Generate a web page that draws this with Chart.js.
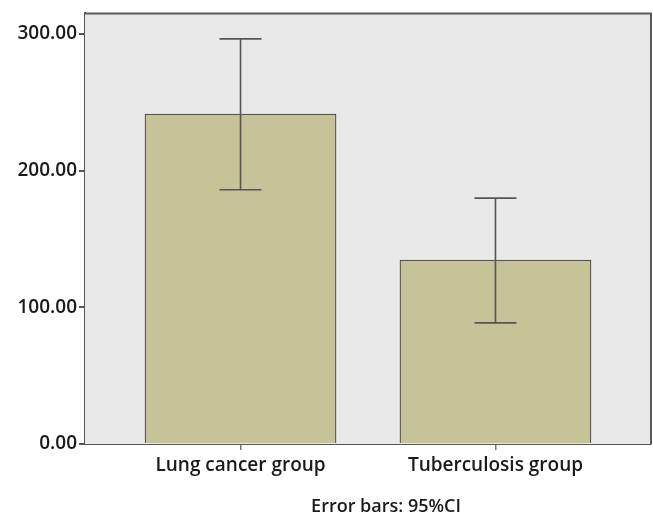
<!DOCTYPE html>
<html>
<head>
<meta charset="utf-8">
<script src="https://cdn.jsdelivr.net/npm/chart.js@4/dist/chart.umd.min.js"></script>
<style>
  html, body { margin: 0; padding: 0; background: #fff; }
  #wrap { width: 653px; height: 516px; }
</style>
</head>
<body>
<div id="wrap"><canvas id="myChart"></canvas></div>
<script>
// groups and values
const groups = ["Lung cancer group", "Tuberculosis group"];
const means = [241.3, 134.5];
const ciLow = [186, 88.6];
const ciHigh = [296.4, 179.9];
const yTicks = [0, 100, 200, 300];
const note = "Error bars: 95%CI";

const textFont = { family: "'Open Sans', sans-serif", size: 19, weight: 600 };

// grey plot background and frame
const plotFrame = {
    id: 'plotFrame',
    beforeDatasetsDraw(chart) {
        const a = chart.chartArea, ctx = chart.ctx;
        ctx.save();
        ctx.fillStyle = '#e9e9e9';
        ctx.fillRect(a.left, a.top, a.right - a.left, a.bottom - a.top);
        ctx.restore();
    },
    afterDatasetsDraw(chart) {
        const a = chart.chartArea, ctx = chart.ctx;
        ctx.save();
        ctx.strokeStyle = '#5a5a5a';
        ctx.lineWidth = 2;
        ctx.beginPath();
        ctx.moveTo(a.left, a.top);
        ctx.lineTo(a.right, a.top);
        ctx.lineTo(a.right, a.bottom);
        ctx.stroke();
        ctx.restore();
    },
    afterDraw(chart) {
        // footnote under the axis, a bit right of centre like the original
        const a = chart.chartArea, ctx = chart.ctx;
        ctx.save();
        ctx.fillStyle = '#1a1a1a';
        ctx.font = "600 18px 'Open Sans', sans-serif";
        ctx.textAlign = 'center';
        ctx.textBaseline = 'alphabetic';
        ctx.fillText(note, (a.left + a.right) / 2 + 18, chart.height - 4);
        ctx.restore();
    }
};

// 95% CI whiskers
const errorBars = {
    id: 'errorBars',
    afterDatasetsDraw(chart) {
        const ctx = chart.ctx, y = chart.scales.y;
        const meta = chart.getDatasetMeta(0);
        ctx.save();
        ctx.strokeStyle = '#555555';
        ctx.lineWidth = 1.6;
        meta.data.forEach((bar, i) => {
            const top = y.getPixelForValue(ciHigh[i]);
            const bot = y.getPixelForValue(ciLow[i]);
            const half = 21;
            ctx.beginPath();
            ctx.moveTo(bar.x, top); ctx.lineTo(bar.x, bot);
            ctx.moveTo(bar.x - half, top); ctx.lineTo(bar.x + half, top);
            ctx.moveTo(bar.x - half, bot); ctx.lineTo(bar.x + half, bot);
            ctx.stroke();
        });
        ctx.restore();
    }
};

const ctx = document.getElementById('myChart').getContext('2d');
const myChart = new Chart(ctx, {
    type: 'bar',
    data: {
        datasets: [{
            data: means.map((v, i) => ({ x: i + 1, y: v })),
            backgroundColor: '#c6c398',
            borderColor: '#333333',
            borderWidth: 1,
            barThickness: 191
        }]
    },
    plugins: [plotFrame, errorBars],
    options: {
        responsive: true,
        maintainAspectRatio: false,
        animation: false,
        layout: { padding: { top: 12, right: 2, left: 0, bottom: 0 } },
        plugins: { legend: { display: false }, tooltip: { enabled: false } },
        scales: {
            x: {
                type: 'linear',
                min: 0.39,
                max: 2.61,
                offset: false,
                afterBuildTicks: scale => { scale.ticks = groups.map((g, i) => ({ value: i + 1 })); },
                afterFit: scale => { scale.height = 72; },
                ticks: {
                    callback: v => groups[v - 1] || '',
                    color: '#1a1a1a',
                    font: textFont,
                    padding: 4,
                    maxRotation: 0,
                    autoSkip: false
                },
                grid: { offset: false, drawOnChartArea: false, tickLength: 6, color: '#777', lineWidth: 1.5 },
                border: { color: '#555', width: 2 }
            },
            y: {
                min: 0,
                max: 315,
                afterBuildTicks: scale => { scale.ticks = yTicks.map(v => ({ value: v })); },
                afterFit: scale => { scale.width = 85; },
                ticks: {
                    callback: v => v.toFixed(2),
                    color: '#1a1a1a',
                    font: textFont,
                    padding: 2
                },
                grid: { drawOnChartArea: false, tickLength: 6, color: '#555', lineWidth: 2 },
                border: { color: '#555', width: 2 }
            }
        }
    }
});
</script>
</body>
</html>
